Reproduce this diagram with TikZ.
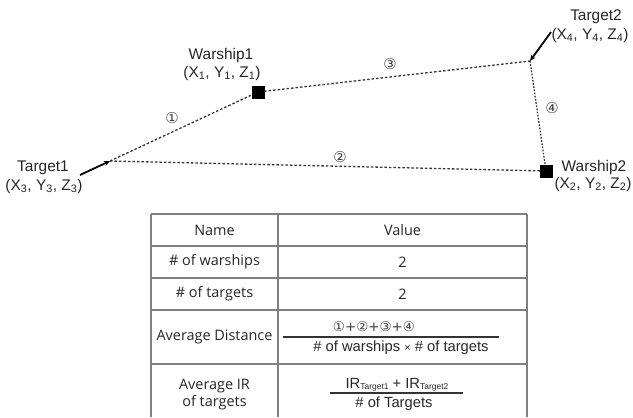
\documentclass[tikz,border=0pt]{standalone}
\usepackage{fontspec}
\setmainfont{Liberation Sans}
\newfontfamily\tabfont{Open Sans}
\newfontfamily\symfont{DejaVu Sans}
\usetikzlibrary{arrows.meta}
\begin{document}
\begin{tikzpicture}[x=1bp,y=-1bp,
  ship/.style={draw=black,fill=black,minimum size=12bp,inner sep=0pt},
  route/.style={draw=black!80,line width=1.3bp,dash pattern=on 2.5bp off 2bp},
  dotroute/.style={draw=black!80,line width=1.3bp,dash pattern=on 1.6bp off 1.6bp},
  pointer/.style={draw=black,line width=1.8bp,-{Stealth[length=6bp,width=5bp]}},
  lbl/.style={inner sep=0pt,font=\fontsize{15.5}{17}\selectfont,text=black!85},
  num/.style={inner sep=0pt,font=\symfont\fontsize{15}{16}\selectfont,text=black!75},
  cell/.style={inner sep=0pt,font=\tabfont\fontsize{14.5}{16}\selectfont,text=black!85},
  formula/.style={inner sep=0pt,font=\fontsize{14.8}{16}\selectfont,text=black!85},
  grid/.style={draw=black!50,line width=1.4bp},
  rule/.style={draw=black!80,line width=1.2bp}]
\useasboundingbox (0,0) rectangle (633,417);

% positions of the ships and targets
\node[ship] (w1) at (258,92) {};
\node[ship] (w2) at (546,171) {};
\coordinate (t1) at (110,161);
\coordinate (t2) at (530,61);

% distances between ships and targets
\draw[route] (t1) -- (w1);
\draw[route] (w1) -- (t2);
\draw[route] (t1) -- (w2);
\draw[dotroute] (t2) -- (w2);

% pointers marking the targets
\coordinate (t1tail) at (80,175);
\coordinate (t2tail) at (551,32);
\draw[pointer] (t1tail) -- (t1);
\draw[pointer] (t2tail) -- (t2);

% names and coordinates
\node[lbl] (w1name) at (221,56) {Warship1};
\node[lbl] (w1pos) at (222,73) {(X\textsubscript{1}, Y\textsubscript{1}, Z\textsubscript{1})};
\node[lbl] (t1name) at (43,168) {Target1};
\node[lbl] (t1pos) at (44,186) {(X\textsubscript{3}, Y\textsubscript{3}, Z\textsubscript{3})};
\node[lbl] (t2name) at (596,17) {Target2};
\node[lbl] (t2pos) at (590,35) {(X\textsubscript{4}, Y\textsubscript{4}, Z\textsubscript{4})};
\node[lbl] (w2name) at (594,167) {Warship2};
\node[lbl] (w2pos) at (593,184) {(X\textsubscript{2}, Y\textsubscript{2}, Z\textsubscript{2})};

% distance numbers
\node[num] (d1) at (172,118) {①};
\node[num] (d2) at (340,157) {②};
\node[num] (d3) at (390,64) {③};
\node[num] (d4) at (552,108) {④};

% table grid
\foreach \yy in {214,246,278,310,364} \draw[grid] (151,\yy) -- (527,\yy);
\foreach \xx in {151,278,527} \draw[grid] (\xx,214) -- (\xx,417);

% table contents
\node[cell] (hname) at (214.5,230) {Name};
\node[cell] (hval) at (402.5,230) {Value};
\node[cell] (r1name) at (214.5,262) {\# of warships};
\node[cell] (r1val) at (402.5,262) {2};
\node[cell] (r2name) at (214.5,294) {\# of targets};
\node[cell] (r2val) at (402.5,294) {2};
\node[cell] (r3name) at (214.5,337) {Average Distance};
\node[num,font=\symfont\fontsize{13.5}{14}\selectfont] (r3num) at (374,327) {①+②+③+④};
\draw[rule] (283,337) -- (499,337);
\node[formula] (r3den) at (401,348) {\# of warships {\fontsize{11}{12}\selectfont×} \# of targets};
\node[cell] (r4name) at (214.5,386) {Average IR};
\node[cell] (r4name2) at (214.5,403) {of targets};
\node[formula] (r4num) at (397,385) {IR{\fontsize{8.5}{9}\selectfont\raisebox{-1.5bp}{Target1}} + IR{\fontsize{8.5}{9}\selectfont\raisebox{-1.5bp}{Target2}}};
\draw[rule] (330,393) -- (463,393);
\node[formula] (r4den) at (394,404) {\# of Targets};
\end{tikzpicture}
\end{document}
